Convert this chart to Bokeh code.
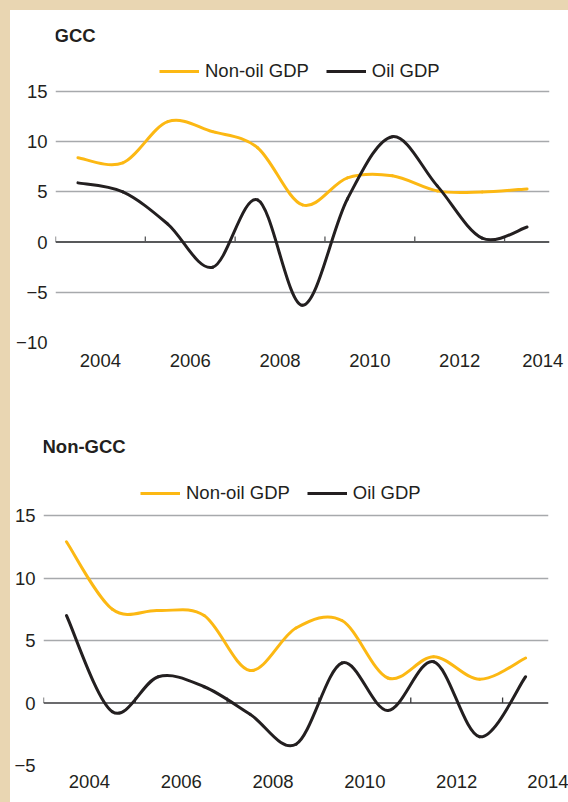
import numpy as np
from bokeh.plotting import figure
from bokeh.models import Range1d, FixedTicker, Span, Legend, LegendItem, Label
from bokeh.embed import file_html
from bokeh.resources import INLINE

# ---------------- data (annual growth, percent) ----------------
years = [2003, 2004, 2005, 2006, 2007, 2008, 2009, 2010, 2011, 2012, 2013]
series_names = ["Non-oil GDP", "Oil GDP"]

gcc_nonoil = [8.4, 7.9, 12.0, 11.0, 9.4, 3.7, 6.4, 6.6, 5.1, 5.0, 5.3]
gcc_oil = [5.9, 5.0, 1.8, -2.5, 4.2, -6.3, 4.3, 10.5, 5.6, 0.4, 1.5]

ngcc_nonoil = [12.9, 7.5, 7.4, 7.0, 2.6, 6.0, 6.6, 2.0, 3.7, 1.9, 3.6]
ngcc_oil = [7.0, -0.7, 2.1, 1.3, -0.9, -3.3, 3.2, -0.6, 3.3, -2.7, 2.1]

x_label_years = [2004, 2006, 2008, 2010, 2012, 2014]
x_tick_years = [2003, 2005, 2007, 2009, 2011, 2013]
gcc_y_ticks = [-10, -5, 0, 5, 10, 15]
ngcc_y_ticks = [-5, 0, 5, 10, 15]

# ---------------- style ----------------
FONT = "Liberation Sans"
FS = "18.5px"
TEXT = "#231f20"
YELLOW = "#fcb813"
BLACK = "#231f20"
GRID = "#a7a9ac"


def smooth_segments(xs, ys, t=1.0 / 6.0):
    """Cubic Bezier control points for a smooth curve through the points."""
    xs = np.asarray(xs, float)
    ys = np.asarray(ys, float)
    n = len(xs)
    px = np.concatenate([[xs[0]], xs, [xs[-1]]])
    py = np.concatenate([[ys[0]], ys, [ys[-1]]])
    return dict(
        x0=xs[:-1], y0=ys[:-1], x1=xs[1:], y1=ys[1:],
        cx0=px[1:n] + (px[2:n + 1] - px[0:n - 1]) * t,
        cy0=py[1:n] + (py[2:n + 1] - py[0:n - 1]) * t,
        cx1=px[2:n + 1] - (px[3:n + 2] - px[1:n]) * t,
        cy1=py[2:n + 1] - (py[3:n + 2] - py[1:n]) * t,
    )


def make_panel(title, nonoil, oil, yticks, width, height, left, right, bottom,
               head_px, legend_loc, title_dy, zero_color, zero_width,
               label_standoff, x_standoff, last_label_pad=0):
    ymin, ymax = min(yticks), max(yticks)
    frame_h = height - bottom
    # the frame also holds the header (title + legend) above the top gridline
    units_per_px = (ymax - ymin) / (frame_h - head_px)
    y_end = ymax + head_px * units_per_px
    p = figure(width=width, height=height,
               x_range=Range1d(min(x_tick_years), max(x_label_years)),
               y_range=Range1d(ymin, y_end),
               output_backend="svg", toolbar_location=None, tools="")
    p.min_border_left = left
    p.min_border_right = right
    p.min_border_top = 0
    p.min_border_bottom = bottom
    p.outline_line_color = None
    p.background_fill_color = "white"
    p.border_fill_color = "white"

    # grid
    p.xgrid.visible = False
    p.ygrid.ticker = FixedTicker(ticks=[v for v in yticks if v != 0])
    p.ygrid.grid_line_color = GRID
    p.ygrid.grid_line_width = 1.3

    # y axis
    yax = p.yaxis[0]
    yax.ticker = FixedTicker(ticks=yticks)
    yax.major_label_overrides = {v: str(v).replace("-", "\u2212") for v in yticks}
    yax.axis_line_color = None
    yax.major_tick_line_color = None
    yax.minor_tick_line_color = None
    yax.major_label_standoff = label_standoff
    # x axis
    xax = p.xaxis[0]
    xax.ticker = FixedTicker(ticks=x_label_years)
    if last_label_pad:
        last = x_label_years[-1]
        xax.major_label_overrides = {last: str(last) + "\u00a0" * last_label_pad}
    xax.axis_line_color = None
    xax.major_tick_line_color = None
    xax.minor_tick_line_color = None
    xax.major_label_standoff = x_standoff
    for ax in (xax, yax):
        ax.major_label_text_font = FONT
        ax.major_label_text_font_size = FS
        ax.major_label_text_color = TEXT

    # zero line with small tick marks at odd years
    p.add_layout(Span(location=0, dimension="width", line_color=zero_color,
                      line_width=zero_width, level="underlay"))
    tick_len = 5.5 * units_per_px
    p.segment(x0=x_tick_years, y0=[0] * len(x_tick_years),
              x1=x_tick_years, y1=[tick_len] * len(x_tick_years),
              line_color=zero_color, line_width=1.3)

    xs = [y + 0.5 for y in years]  # annual values plotted mid-year
    p.bezier(line_color=YELLOW, line_width=3, line_cap="round",
             **smooth_segments(xs, nonoil))
    p.bezier(line_color=BLACK, line_width=3, line_cap="round",
             **smooth_segments(xs, oil))

    # legend swatches: single-point lines (draw nothing in the plot itself)
    sw_y = p.line(x=xs[:1], y=nonoil[:1], line_color=YELLOW, line_width=3)
    sw_b = p.line(x=xs[:1], y=oil[:1], line_color=BLACK, line_width=3)
    legend = Legend(items=[LegendItem(label=series_names[0], renderers=[sw_y]),
                           LegendItem(label=series_names[1], renderers=[sw_b])],
                    location=legend_loc, orientation="horizontal",
                    glyph_width=40, glyph_height=20, label_height=20,
                    label_standoff=6, spacing=17, padding=0, margin=0,
                    border_line_color=None, background_fill_alpha=0,
                    label_text_font=FONT, label_text_font_size=FS,
                    label_text_color=TEXT)
    p.add_layout(legend)

    p.add_layout(Label(x=min(x_tick_years), y=ymax, y_offset=title_dy, x_offset=-1,
                       text=title, text_font=FONT, text_font_size=FS,
                       text_font_style="bold", text_color=TEXT,
                       text_baseline="middle", text_align="left"))
    return p


p1 = make_panel("GCC", gcc_nonoil, gcc_oil, gcc_y_ticks,
                width=558, height=390, left=45, right=19, bottom=58, head_px=81,
                legend_loc=(104, 260), title_dy=56,
                zero_color="#58595b", zero_width=2, label_standoff=2, x_standoff=1,
                last_label_pad=1)
p2 = make_panel("Non-GCC", ngcc_nonoil, ngcc_oil, ngcc_y_ticks,
                width=558, height=394, left=33, right=20, bottom=29, head_px=115,
                legend_loc=(97, 261), title_dy=69,
                zero_color="#3a3a3c", zero_width=1.6, label_standoff=2, x_standoff=3)

p1.margin = (10, 0, 0, 10)
p2.margin = (0, 0, 0, 10)

TEMPLATE = """{% block preamble %}<style>
body::before { content: ""; position: fixed; left: 0; top: 0; width: 10px; height: 100%; background: #e9d6b2; }
body::after { content: ""; position: fixed; left: 0; top: 0; width: 100%; height: 10px; background: #e9d6b2; }
</style>{% endblock %}"""

open("out.html", "w").write(file_html([p1, p2], INLINE, template=TEMPLATE))
